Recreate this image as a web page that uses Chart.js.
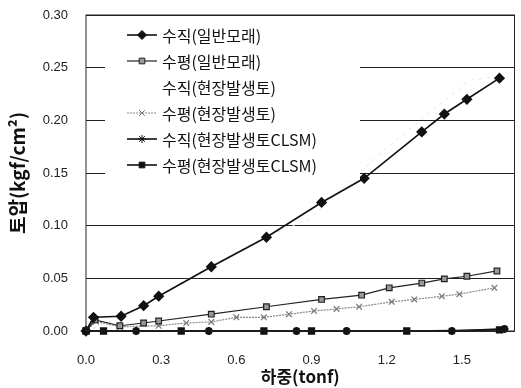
<!DOCTYPE html>
<html>
<head>
<meta charset="utf-8">
<script src="https://cdn.jsdelivr.net/npm/chart.js"></script>
<style>
  body { margin: 0; background: #fff; }
  #wrap { width: 521px; height: 388px; }
</style>
</head>
<body>
<div id="wrap"><canvas id="chart" width="521" height="388"></canvas></div>
<script>
// load (tonf) vs earth pressure (kgf/cm2)
const seriesNames = [
  "수직(일반모래)",
  "수평(일반모래)",
  "수직(현장발생토)",
  "수평(현장발생토)",
  "수직(현장발생토CLSM)",
  "수평(현장발생토CLSM)",
];

const vSandX = [0, 0.03, 0.14, 0.23, 0.29, 0.5, 0.72, 0.94, 1.11, 1.34, 1.43, 1.52, 1.65];
const vSandY = [0, 0.013, 0.014, 0.024, 0.033, 0.061, 0.089, 0.122, 0.145, 0.189, 0.206, 0.22, 0.24];

const hSandX = [0, 0.036, 0.135, 0.23, 0.29, 0.5, 0.72, 0.94, 1.1, 1.21, 1.34, 1.43, 1.52, 1.64];
const hSandY = [0, 0.0105, 0.005, 0.0076, 0.0095, 0.016, 0.023, 0.03, 0.034, 0.041, 0.0455, 0.0495, 0.052, 0.057];

const vSiteX = [0, 0.14, 0.29, 0.5, 0.72, 0.89, 1.19, 1.53, 1.65];
const vSiteY = [0, 0.013, 0.034, 0.062, 0.09, 0.106, 0.172, 0.238, 0.242];

const hSiteX = [0, 0.04, 0.135, 0.29, 0.4, 0.5, 0.6, 0.71, 0.81, 0.91, 1.0, 1.09, 1.22, 1.31, 1.42, 1.49, 1.63];
const hSiteY = [0, 0.009, 0.004, 0.005, 0.0076, 0.0086, 0.013, 0.013, 0.016, 0.019, 0.021, 0.023, 0.0277, 0.03, 0.033, 0.035, 0.041];

const vClsmX = [0, 0.2, 0.49, 0.84, 1.04, 1.46, 1.67];
const vClsmY = [0, 0, 0, 0, 0, 0, 0.002];

const hClsmX = [0, 0.07, 0.38, 0.71, 0.9, 1.28, 1.65];
const hClsmY = [0, 0, 0, 0, 0, 0, 0.001];

const xTicks = [0, 0.3, 0.6, 0.9, 1.2, 1.5];
const yTicks = [0, 0.05, 0.1, 0.15, 0.2, 0.25, 0.3];

const pts = (xs, ys) => xs.map((x, i) => ({ x: x, y: ys[i] }));

const ctx = document.getElementById("chart").getContext("2d");

// legend drawn inside the plot, on a white box
const boxLegend = {
  id: "boxLegend",
  afterDatasetsDraw(chart) {
    const c = chart.ctx;
    c.save();
    c.fillStyle = "#fff";
    c.fillRect(105, 20, 255, 160);
    chart.data.datasets.forEach((ds, i) => {
      const y = 35 + i * 26;
      if (!ds.hideLegendLine) {
        c.strokeStyle = ds.borderColor;
        c.lineWidth = ds.borderWidth;
        c.setLineDash(ds.borderDash || []);
        c.beginPath();
        c.moveTo(127, y);
        c.lineTo(157, y);
        c.stroke();
        c.setLineDash([]);
        if (ds.pointRadius > 0 && Chart.helpers && Chart.helpers.drawPoint) {
          c.fillStyle = ds.pointBackgroundColor;
          c.strokeStyle = ds.pointBorderColor;
          c.lineWidth = 1;
          Chart.helpers.drawPoint(c, {
            pointStyle: ds.pointStyle,
            radius: ds.pointRadius,
            rotation: 0,
            borderWidth: 1,
          }, 142, y);
        }
      }
      c.fillStyle = "#111";
      c.font = "16px 'Noto Sans CJK KR'";
      c.textBaseline = "middle";
      c.fillText(ds.label, 162, y + 1);
    });
    c.restore();
  },
  afterDraw(chart) {
    const a = chart.chartArea;
    const c = chart.ctx;
    c.save();
    c.strokeStyle = "#222";
    c.lineWidth = 1;
    c.strokeRect(a.left, a.top, a.right - a.left, a.bottom - a.top);
    c.restore();
  },
};

const chart = new Chart(ctx, {
  type: "line",
  data: {
    datasets: [
      {
        label: seriesNames[0],
        data: pts(vSandX, vSandY),
        borderColor: "#111",
        borderWidth: 1.6,
        pointStyle: "rectRot",
        pointRadius: 4.5,
        pointBackgroundColor: "#111",
        pointBorderColor: "#111",
      },
      {
        label: seriesNames[1],
        data: pts(hSandX, hSandY),
        borderColor: "#222",
        borderWidth: 1.2,
        pointStyle: "rect",
        pointRadius: 4,
        pointBackgroundColor: "#999",
        pointBorderColor: "#222",
      },
      {
        label: seriesNames[2],
        data: pts(vSiteX, vSiteY),
        borderColor: "#e2e2e2",
        borderWidth: 1,
        borderDash: [3, 5],
        pointRadius: 0,
        hideLegendLine: true,
      },
      {
        label: seriesNames[3],
        data: pts(hSiteX, hSiteY),
        borderColor: "#888",
        borderWidth: 1.2,
        borderDash: [2, 1],
        pointStyle: "crossRot",
        pointRadius: 4,
        pointBackgroundColor: "#777",
        pointBorderColor: "#777",
      },
      {
        label: seriesNames[4],
        data: pts(vClsmX, vClsmY),
        borderColor: "#111",
        borderWidth: 1.6,
        pointStyle: "star",
        pointRadius: 4,
        pointBorderWidth: 2.5,
        pointBackgroundColor: "#111",
        pointBorderColor: "#111",
      },
      {
        label: seriesNames[5],
        data: pts(hClsmX, hClsmY),
        borderColor: "#111",
        borderWidth: 1.6,
        pointStyle: "rect",
        pointRadius: 4,
        pointBackgroundColor: "#111",
        pointBorderColor: "#111",
      },
    ],
  },
  options: {
    responsive: false,
    animation: false,
    clip: false,
    layout: { padding: { top: 15, right: 4, left: 0, bottom: 0 } },
    plugins: {
      legend: { display: false },
      tooltip: { enabled: false },
    },
    scales: {
      x: {
        type: "linear",
        min: 0,
        max: 1.71,
        afterBuildTicks: (axis) => {
          axis.ticks = xTicks.map((v) => ({ value: v }));
        },
        afterFit: (axis) => {
          axis.height = 57;
          axis.paddingLeft = 0;
          axis.paddingRight = 0;
        },
        grid: { display: false },
        border: { display: false },
        ticks: {
          padding: 14,
          color: "#222",
          font: { family: "'Liberation Sans'", size: 13 },
          callback: (v) => Number(v).toFixed(1),
        },
        title: {
          display: true,
          text: "하중(tonf)",
          color: "#111",
          padding: { top: 0, bottom: 1 },
          font: { family: "'Noto Sans CJK KR'", size: 17, weight: "bold" },
        },
      },
      y: {
        min: 0,
        max: 0.3,
        afterBuildTicks: (axis) => {
          axis.ticks = yTicks.map((v) => ({ value: v }));
        },
        afterFit: (axis) => {
          axis.width = 86;
          axis.paddingTop = 0;
          axis.paddingBottom = 0;
        },
        grid: { color: "#222", drawTicks: false, lineWidth: 1 },
        border: { display: false },
        ticks: {
          padding: 18,
          color: "#222",
          font: { family: "'Liberation Sans'", size: 13 },
          callback: (v) => Number(v).toFixed(2),
        },
        title: {
          display: true,
          text: "토압(kgf/cm²)",
          color: "#111",
          padding: { top: 6, bottom: 0 },
          font: { family: "'Noto Sans CJK KR'", size: 19, weight: "bold" },
        },
      },
    },
  },
  plugins: [boxLegend],
});
</script>
</body>
</html>
